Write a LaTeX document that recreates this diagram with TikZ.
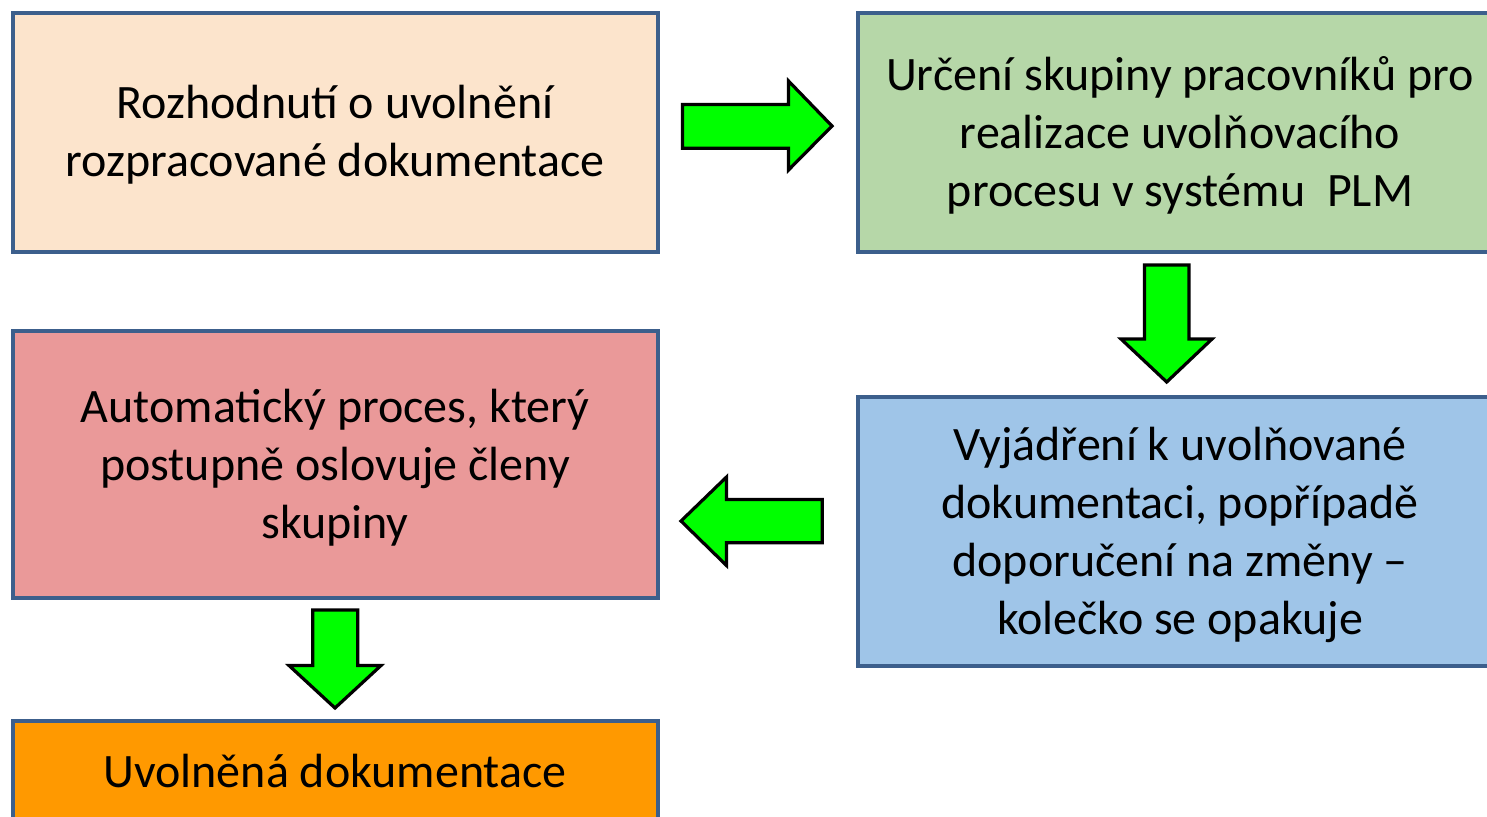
\documentclass[tikz,border=0pt]{standalone}
\usepackage{fontspec}
\setmainfont{Carlito}
\definecolor{boxline}{HTML}{3C5F8C}
\definecolor{peach}{HTML}{FCE4CC}
\definecolor{leaf}{HTML}{B6D7A8}
\definecolor{rose}{HTML}{EA9999}
\definecolor{sky}{HTML}{9FC5E8}
\definecolor{amber}{HTML}{FF9900}
\definecolor{arrowgreen}{HTML}{00FF00}
\begin{document}
\begin{tikzpicture}[
    x=0.5pt, y=-0.5pt,
    stepbox/.style={rectangle, draw=boxline, line width=2pt,
        minimum width=322.5pt, inner sep=0pt, align=center,
        text depth=1pt, font=\fontsize{24}{29}\selectfont},
    blockarrow/.style={draw=black, line width=1.6pt, fill=arrowgreen,
        line join=miter}
]
    \useasboundingbox (0,0) rectangle (1487,816);
    \clip (0,0) rectangle (1487,816);
    \node[stepbox, fill=peach, minimum height=119.5pt] (decide) at (335,132)
        {Rozhodnutí o uvolnění\\rozpracované dokumentace};
    \node[stepbox, fill=leaf, minimum height=119.5pt] (group) at (1180,132)
        {Určení skupiny pracovníků pro\\realizace uvolňovacího\\procesu v systému~~PLM};
    \node[stepbox, fill=rose, minimum height=133.5pt] (auto) at (335,464.5)
        {Automatický proces, který\\postupně oslovuje členy\\skupiny};
    \node[stepbox, fill=sky, minimum height=134.5pt] (review) at (1180,531.5)
        {Vyjádření k uvolňované\\dokumentaci, popřípadě\\doporučení na změny –\\kolečko se opakuje};
    \node[stepbox, fill=amber, minimum height=50pt, text depth=0pt] (released) at (335,771)
        {Uvolněná dokumentace};
    % block arrows between the boxes
    \draw[blockarrow] (682.5,104.5) -- (788.5,104.5) -- (788.5,81) -- (832,126)
        -- (788.5,170) -- (788.5,148.3) -- (682.5,148.3) -- cycle;
    \draw[blockarrow] (1144.5,265) -- (1189,265) -- (1189,339) -- (1212,339)
        -- (1166.7,382) -- (1121,339) -- (1144.5,339) -- cycle;
    \draw[blockarrow] (822.3,499.5) -- (726.5,499.5) -- (726.5,477) -- (681,521)
        -- (726.5,565.5) -- (726.5,542.7) -- (822.3,542.7) -- cycle;
    \draw[blockarrow] (312.7,610) -- (357.7,610) -- (357.7,665.5) -- (381,665.5)
        -- (335,708) -- (289,665.5) -- (312.7,665.5) -- cycle;
\end{tikzpicture}
\end{document}
